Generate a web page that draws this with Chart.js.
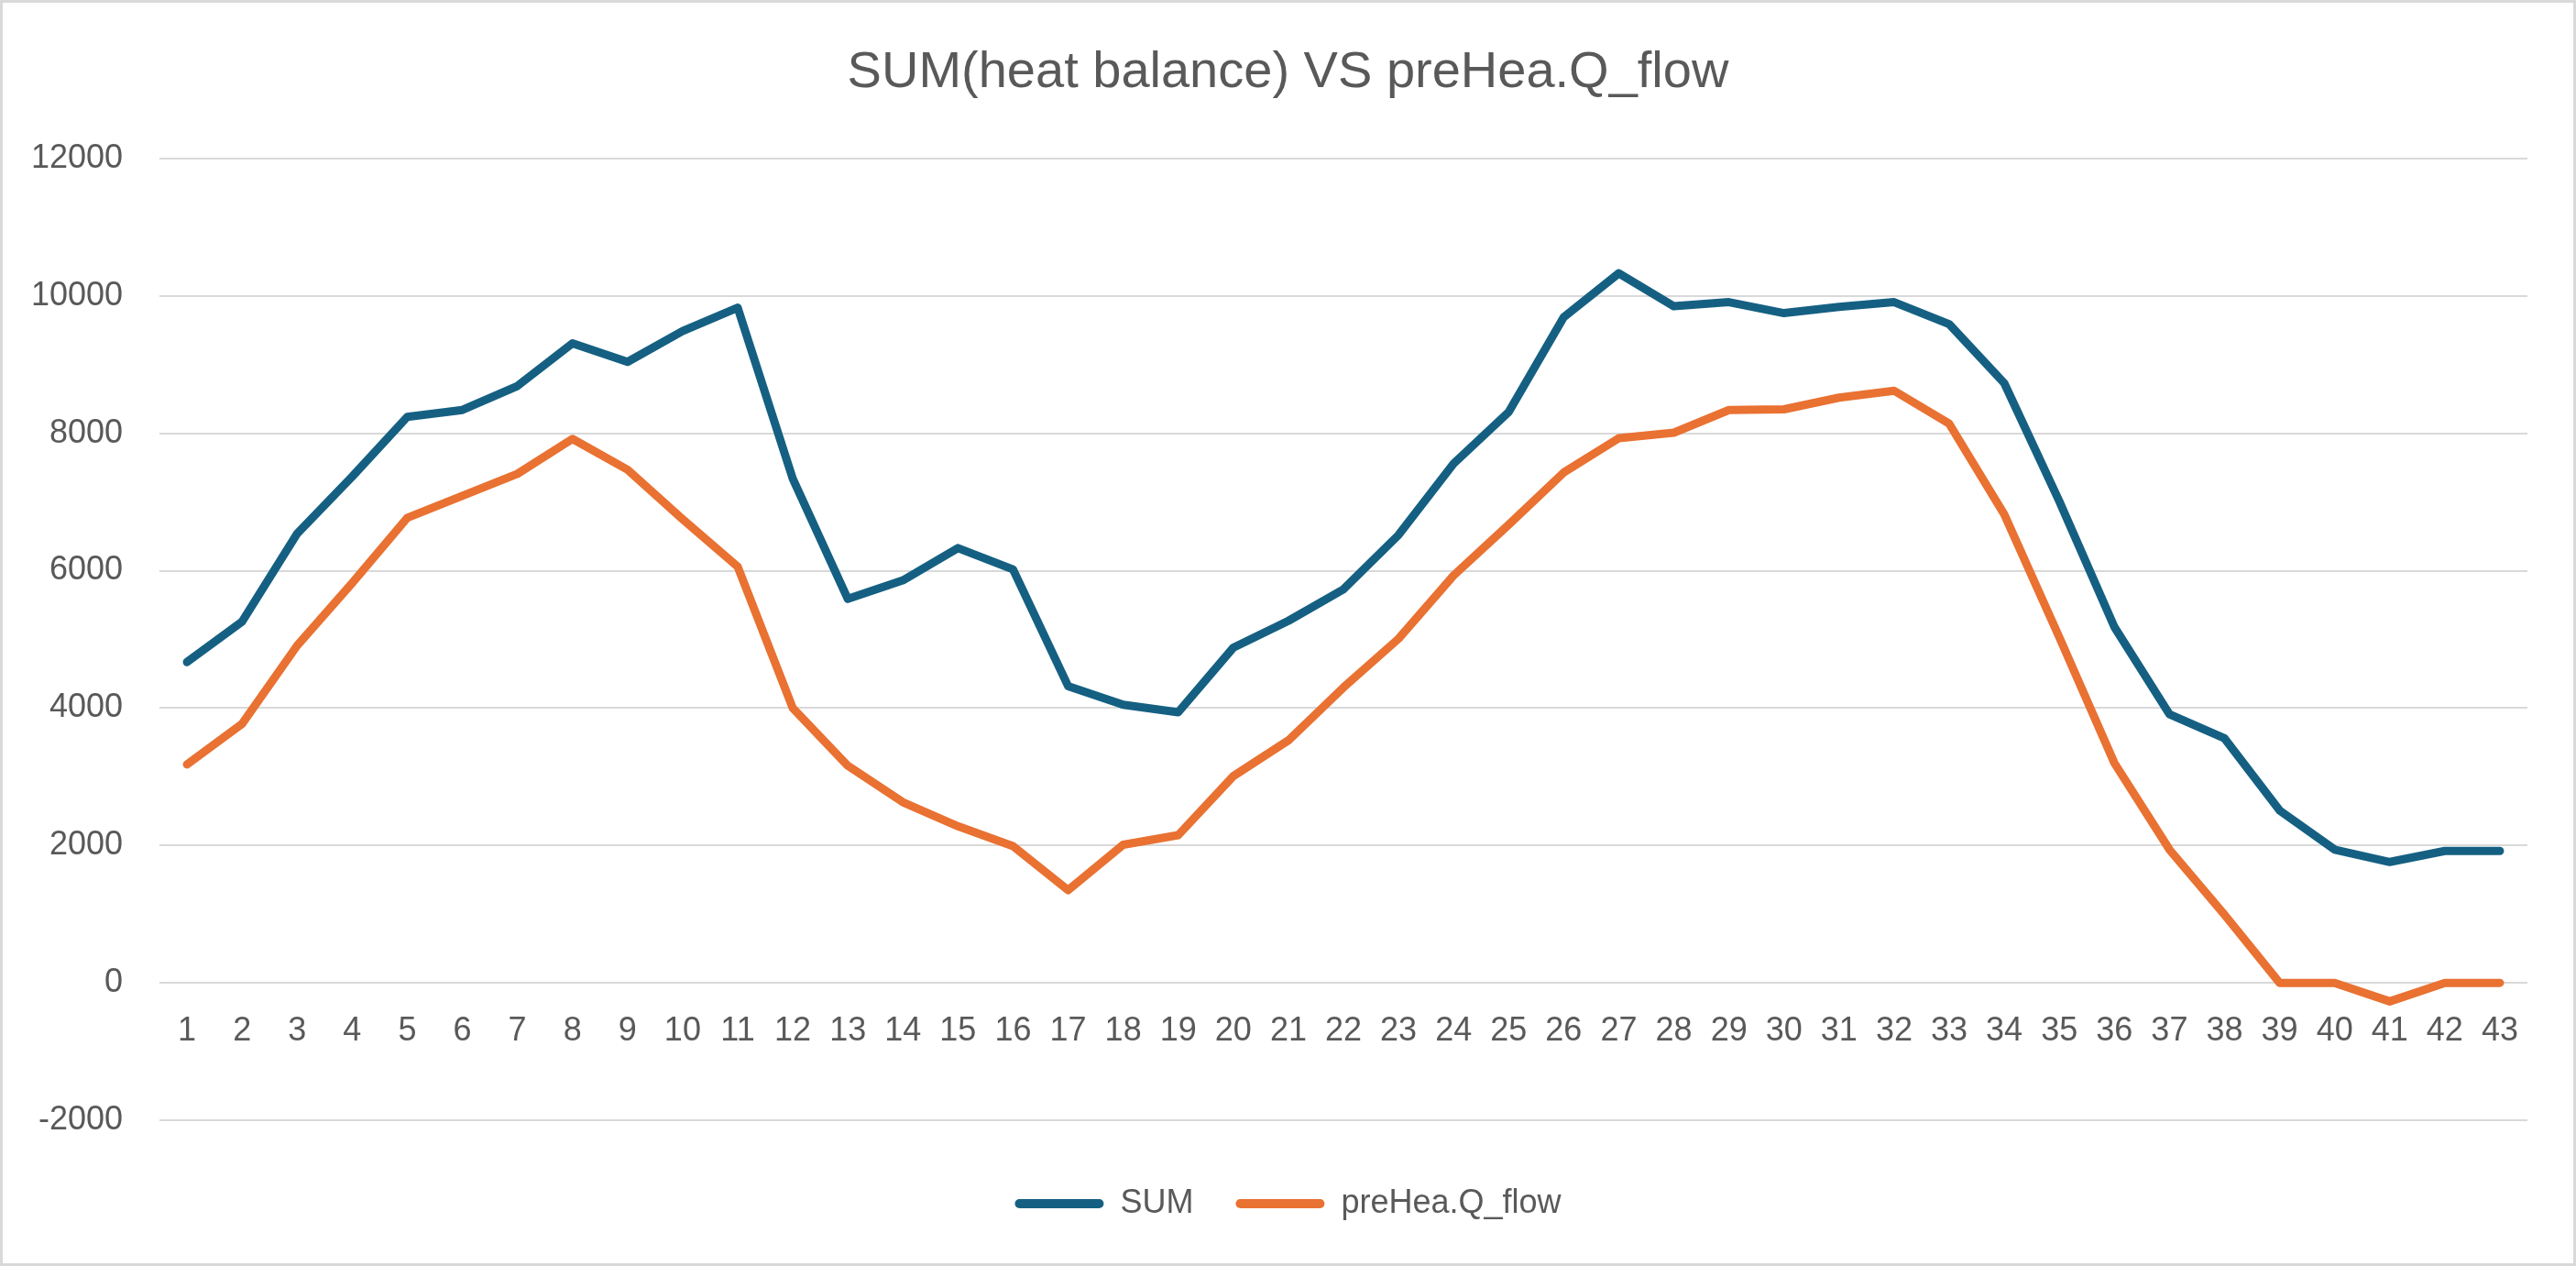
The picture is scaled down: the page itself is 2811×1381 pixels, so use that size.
<!DOCTYPE html>
<html>
<head>
<meta charset="utf-8">
<script src="https://cdn.jsdelivr.net/npm/chart.js@4.4.1/dist/chart.umd.min.js"></script>
<style>
  html, body { margin: 0; padding: 0; background: #fff; }
  #wrap {
    width: 2811px; height: 1381px; box-sizing: border-box;
    border: 3px solid #d9d9d9; position: relative;
  }
</style>
</head>
<body>
<div id="wrap"><canvas id="chart"></canvas></div>
<script>
// data
const steps = ["1","2","3","4","5","6","7","8","9","10","11","12","13","14","15","16","17","18","19","20","21","22","23","24","25","26","27","28","29","30","31","32","33","34","35","36","37","38","39","40","41","42","43"];
const sumValues = [4670, 5260, 6540, 7370, 8240, 8340, 8690, 9310, 9040, 9490, 9830,
  7340, 5590, 5860, 6330, 6020, 4320, 4050, 3940, 4880, 5270, 5730, 6520, 7560, 8310,
  9690, 10330, 9850, 9910, 9750, 9840, 9910, 9590, 8730, 7010, 5180, 3910, 3560, 2510,
  1940, 1760, 1920, 1920];
const preHeaValues = [3180, 3770, 4910, 5820, 6770, 7090, 7410, 7920, 7470, 6750, 6060,
  4000, 3160, 2630, 2280, 1990, 1350, 2010, 2150, 3010, 3530, 4300, 5010, 5930, 6670,
  7430, 7930, 8010, 8340, 8350, 8520, 8620, 8140, 6820, 5030, 3200, 1940, 990, 0,
  0, -270, 0, 0];
const yTicks = { min: -2000, max: 12000, step: 2000 };

const textColor = "#595959";
const gridColor = "#d9d9d9";
const font = "'Liberation Sans', Arial, sans-serif";

new Chart(document.getElementById("chart"), {
  type: "line",
  data: {
    labels: steps,
    datasets: [
      {
        label: "SUM",
        data: sumValues,
        borderColor: "#156082",
        backgroundColor: "#156082",
        borderWidth: 9,
        borderCapStyle: "round",
        borderJoinStyle: "round",
        pointRadius: 0,
        tension: 0
      },
      {
        label: "preHea.Q_flow",
        data: preHeaValues,
        borderColor: "#e97132",
        backgroundColor: "#e97132",
        borderWidth: 9,
        borderCapStyle: "round",
        borderJoinStyle: "round",
        pointRadius: 0,
        tension: 0
      }
    ]
  },
  options: {
    responsive: true,
    maintainAspectRatio: false,
    animation: false,
    layout: { padding: { left: 0, right: 0, top: 0, bottom: 37 } },
    plugins: {
      title: {
        display: true,
        text: "SUM(heat balance) VS preHea.Q_flow",
        color: textColor,
        font: { family: font, size: 56, weight: "normal" },
        padding: { top: 43, bottom: 59.8 }
      },
      legend: {
        position: "bottom",
        // empty legend title only used as spacing above the items
        title: { display: true, text: "", font: { size: 1 }, padding: { top: 25.8, bottom: 0 } },
        labels: {
          color: textColor,
          font: { family: font, size: 36 },
          boxWidth: 97,
          boxHeight: 10,
          padding: 46,
          useBorderRadius: true,
          generateLabels: (chart) => {
            const items = Chart.defaults.plugins.legend.labels.generateLabels(chart);
            items.forEach(it => {
              it.lineWidth = 0;
              it.fillStyle = it.strokeStyle;
              it.borderRadius = 5;
            });
            return items;
          }
        }
      },
      tooltip: { enabled: false }
    },
    scales: {
      x: {
        position: { y: 0 },
        offset: true,
        grid: { display: false, drawTicks: false },
        border: { display: false },
        ticks: {
          color: textColor,
          font: { family: font, size: 36 },
          padding: 31,
          maxRotation: 0,
          autoSkip: false
        }
      },
      y: {
        min: yTicks.min,
        max: yTicks.max,
        grid: { color: gridColor, lineWidth: 2, drawTicks: false },
        border: { display: false },
        ticks: {
          stepSize: yTicks.step,
          color: textColor,
          font: { family: font, size: 36 },
          padding: 40,
          callback: (v) => String(v)
        },
        afterFit: (scale) => { scale.width = 171; }
      },
      // empty right axis, keeps the right margin of the plot
      yRight: {
        position: "right",
        grid: { display: false, drawTicks: false },
        border: { display: false },
        ticks: { display: false },
        afterFit: (scale) => { scale.width = 50; }
      }
    }
  }
});
</script>
</body>
</html>
